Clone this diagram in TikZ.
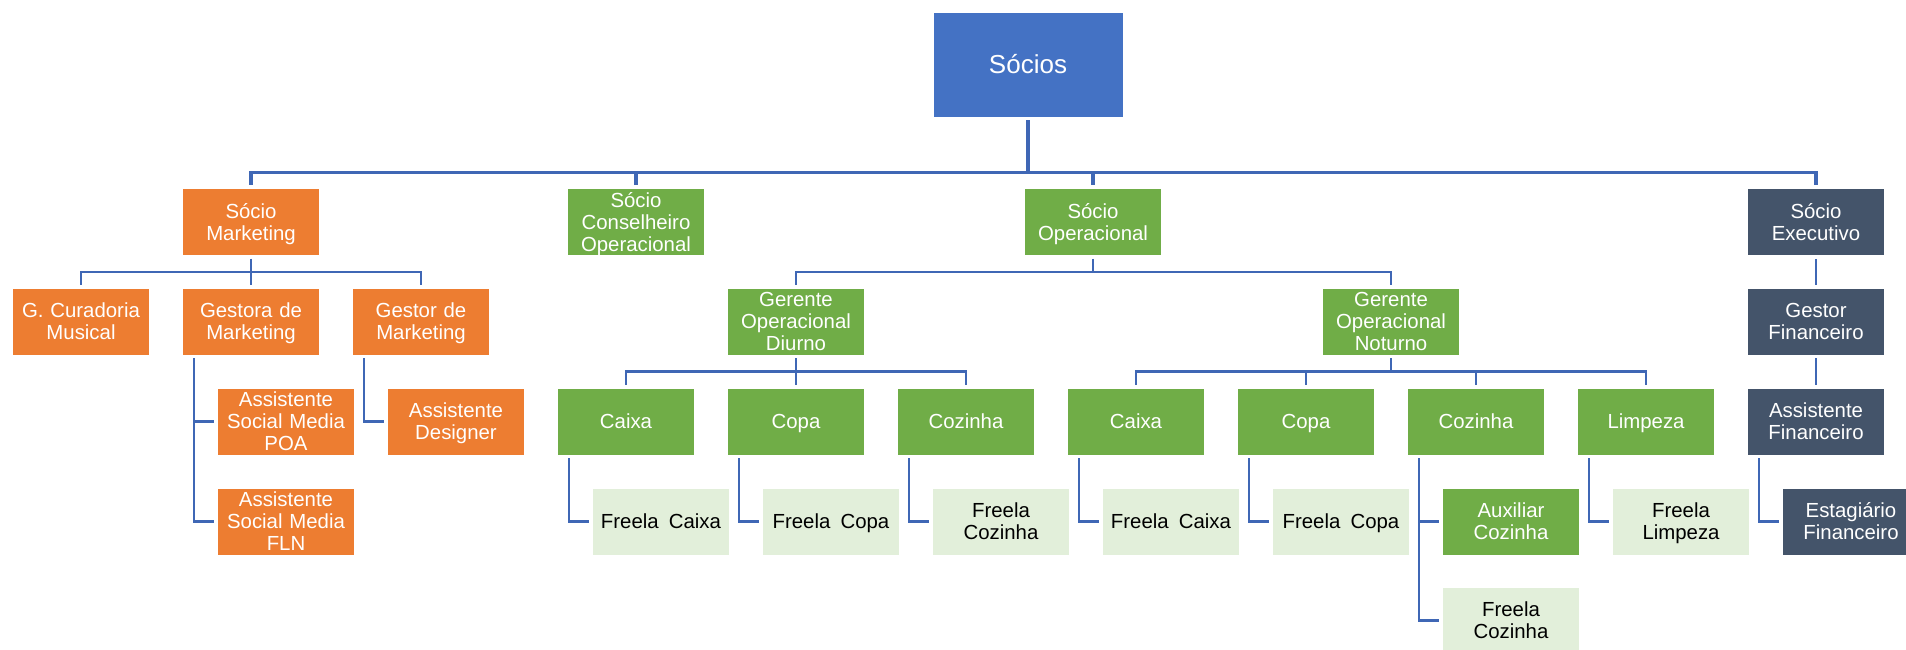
\documentclass[tikz,border=0pt]{standalone}
\usepackage{fontspec}
\setmainfont{Liberation Sans}
\definecolor{topblue}{HTML}{4472C4}
\definecolor{orangebox}{HTML}{ED7D31}
\definecolor{greenbox}{HTML}{70AD47}
\definecolor{slatebox}{HTML}{44546A}
\definecolor{palebox}{HTML}{E2EFDA}
\definecolor{linecol}{HTML}{3F67B5}
\newcommand\boxstrut{\rule[-2.2pt]{0pt}{12.7pt}}
\newcommand\boxstart{\lineskiplimit=-6pt\lineskip=0pt\boxstrut}
\begin{document}
\begin{tikzpicture}
[x=0.02cm,y=-0.02cm,%
  boxdecorate/.style={shape=rectangle,draw=white,line width=0.4pt,inner sep=0pt,%
    minimum width=2.75cm,text width=2.75cm,minimum height=1.34cm,align=center,%
    font=\fontsize{11.6}{12.5}\selectfont,%
    execute at begin node=\boxstart,execute at end node=\boxstrut},%
  orangedecorate/.style={boxdecorate,fill=orangebox,text=white},%
  greendecorate/.style={boxdecorate,fill=greenbox,text=white},%
  slatedecorate/.style={boxdecorate,fill=slatebox,text=white},%
  paledecorate/.style={boxdecorate,fill=palebox,text=black},%
  linedecorate/.style={-,draw=linecol,line width=1.4pt,shorten <=0.06cm,shorten >=0.06cm},%
  busdecorate/.style={linedecorate,to path={(\tikztostart.south) -- ++(0,#1) -| (\tikztotarget.north)}},%
  sidedecorate/.style={linedecorate,to path={([xshift=0.24cm]\tikztostart.south west) |- (\tikztotarget.west)}},%
  stemdecorate/.style={linedecorate,to path={(\tikztostart.south) -- (\tikztotarget.north)}}]
\useasboundingbox (0,0) rectangle (1906,649);
\clip (0,0) rectangle (1906,649);
%% top node
\node (socios) at (1028,64.5) [shape=rectangle,draw=white,line width=0.4pt,fill=topblue,%
  text=white,minimum width=3.8cm,minimum height=2.1cm,font=\fontsize{14.8}{16}\selectfont]
  {\rule[-3pt]{0pt}{16.6pt}Sócios};
%% nodes or vertices
\foreach \nodename/\x/\y/\label in {smkt/251/222/{Sócio\\Marketing},
  gcur/81/321.5/{G. Curadoria\\Musical}, gmkta/251/321.5/{Gestora de\\Marketing},
  gmktb/421/321.5/{Gestor de\\Marketing}, apoa/286/421.5/{Assistente\\Social Media\\POA},
  adsg/456/421.5/{Assistente\\Designer}, afln/286/521.5/{Assistente\\Social Media\\FLN}} {
  \node (\nodename) at (\x,\y) [orangedecorate] {\label};
}
\foreach \nodename/\x/\y/\label in {scons/636/222/{Sócio\\Conselheiro\\Operacional},
  sop/1093/222/{Sócio\\Operacional}, gopd/796/321.5/{Gerente\\Operacional\\Diurno},
  gopn/1391/321.5/{Gerente\\Operacional\\Noturno}, caixad/626/421.5/Caixa,
  copad/796/421.5/Copa, cozd/966/421.5/Cozinha, caixan/1136/421.5/Caixa,
  copan/1306/421.5/Copa, cozn/1476/421.5/Cozinha, limp/1646/421.5/Limpeza,
  auxcoz/1511/521.5/{Auxiliar\\Cozinha}} {
  \node (\nodename) at (\x,\y) [greendecorate] {\label};
}
\foreach \nodename/\x/\y/\label in {fcaixad/661/521.5/{Freela\enspace Caixa},
  fcopad/831/521.5/{Freela\enspace Copa}, fcozd/1001/521.5/{Freela\\Cozinha},
  fcaixan/1171/521.5/{Freela\enspace Caixa}, fcopan/1341/521.5/{Freela\enspace Copa},
  flimp/1681/521.5/{Freela\\Limpeza}, fcozn/1511/620.5/{Freela\\Cozinha}} {
  \node (\nodename) at (\x,\y) [paledecorate] {\label};
}
\foreach \nodename/\x/\y/\label in {sexe/1816/222/{Sócio\\Executivo},
  gfin/1816/321.5/{Gestor\\Financeiro}, afin/1816/421.5/{Assistente\\Financeiro},
  estfin/1851/521.5/{Estagiário\\Financeiro}} {
  \node (\nodename) at (\x,\y) [slatedecorate] {\label};
}
%% edges or lines
\path
\foreach \startnode/\endnode in {socios/smkt, socios/scons, socios/sop, socios/sexe} {
  (\startnode) edge[busdecorate=55,line width=1.8pt] (\endnode)
};
\path
\foreach \startnode/\endnode in {smkt/gcur, smkt/gmkta, smkt/gmktb, sop/gopd, sop/gopn,
  gopd/caixad, gopd/copad, gopd/cozd, gopn/caixan, gopn/copan, gopn/cozn, gopn/limp} {
  (\startnode) edge[busdecorate=16] (\endnode)
};
\path
\foreach \startnode/\endnode in {gmkta/apoa, gmkta/afln, gmktb/adsg, caixad/fcaixad,
  copad/fcopad, cozd/fcozd, caixan/fcaixan, copan/fcopan, cozn/auxcoz, cozn/fcozn,
  limp/flimp, afin/estfin} {
  (\startnode) edge[sidedecorate] (\endnode)
};
\path
\foreach \startnode/\endnode in {sexe/gfin, gfin/afin} {
  (\startnode) edge[stemdecorate] (\endnode)
};
\end{tikzpicture}
\end{document}
